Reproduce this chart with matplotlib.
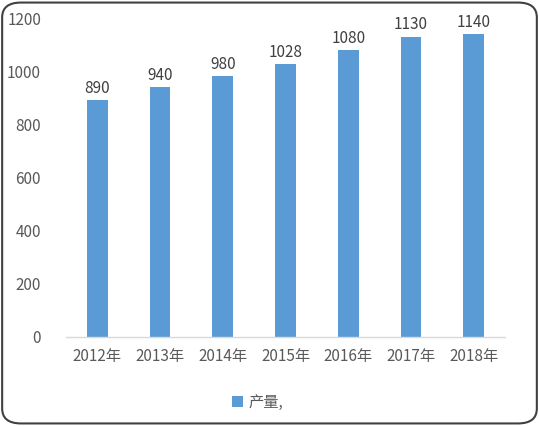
import matplotlib
matplotlib.use("Agg")
import matplotlib.pyplot as plt
import matplotlib.patches as mpatches

plt.rcParams['font.family'] = ['Noto Sans CJK SC', 'DejaVu Sans']

# data
years = ['2012年', '2013年', '2014年', '2015年', '2016年', '2017年', '2018年']
output = [890, 940, 980, 1028, 1080, 1130, 1140]
series_name = '产量,'

bar_color = '#5B9BD5'
text_color = '#595959'

fig = plt.figure(figsize=(5.39, 4.26), dpi=100)
ax = fig.add_axes([0.1225, 0.209, 0.8145, 0.7487])

x = range(len(years))
bars = ax.bar(x, output, width=0.33, color=bar_color, label=series_name)

# value labels on top of bars
for xi, v in zip(x, output):
    ax.text(xi, v + 12, str(v), ha='center', va='bottom', fontsize=11, color='#404040')

ax.set_ylim(0, 1200)
ax.set_xlim(-0.5, len(years) - 0.5)
ax.set_yticks(range(0, 1201, 200))
ax.set_xticks(list(x))
ax.set_xticklabels(years)
ax.tick_params(axis='both', length=0, labelsize=11, labelcolor=text_color)
ax.tick_params(axis='y', pad=18)
ax.tick_params(axis='x', pad=8)

for s in ['top', 'right', 'left']:
    ax.spines[s].set_visible(False)
ax.spines['bottom'].set_color('#D9D9D9')
ax.spines['bottom'].set_linewidth(1)

leg = fig.legend(handles=[bars], labels=[series_name], loc='center',
                 bbox_to_anchor=(0.478, 0.055), frameon=False, fontsize=11,
                 handlelength=0.7, handleheight=0.7, handletextpad=0.4)
for t in leg.get_texts():
    t.set_color(text_color)

# rounded outer border
border = mpatches.FancyBboxPatch((0.004, 0.006), 0.992, 0.988,
                                 boxstyle='round,pad=0,rounding_size=0.035',
                                 transform=fig.transFigure, fill=False,
                                 edgecolor='#404040', linewidth=1.5)
fig.patches.append(border)

fig.savefig('out.png', dpi=100)
